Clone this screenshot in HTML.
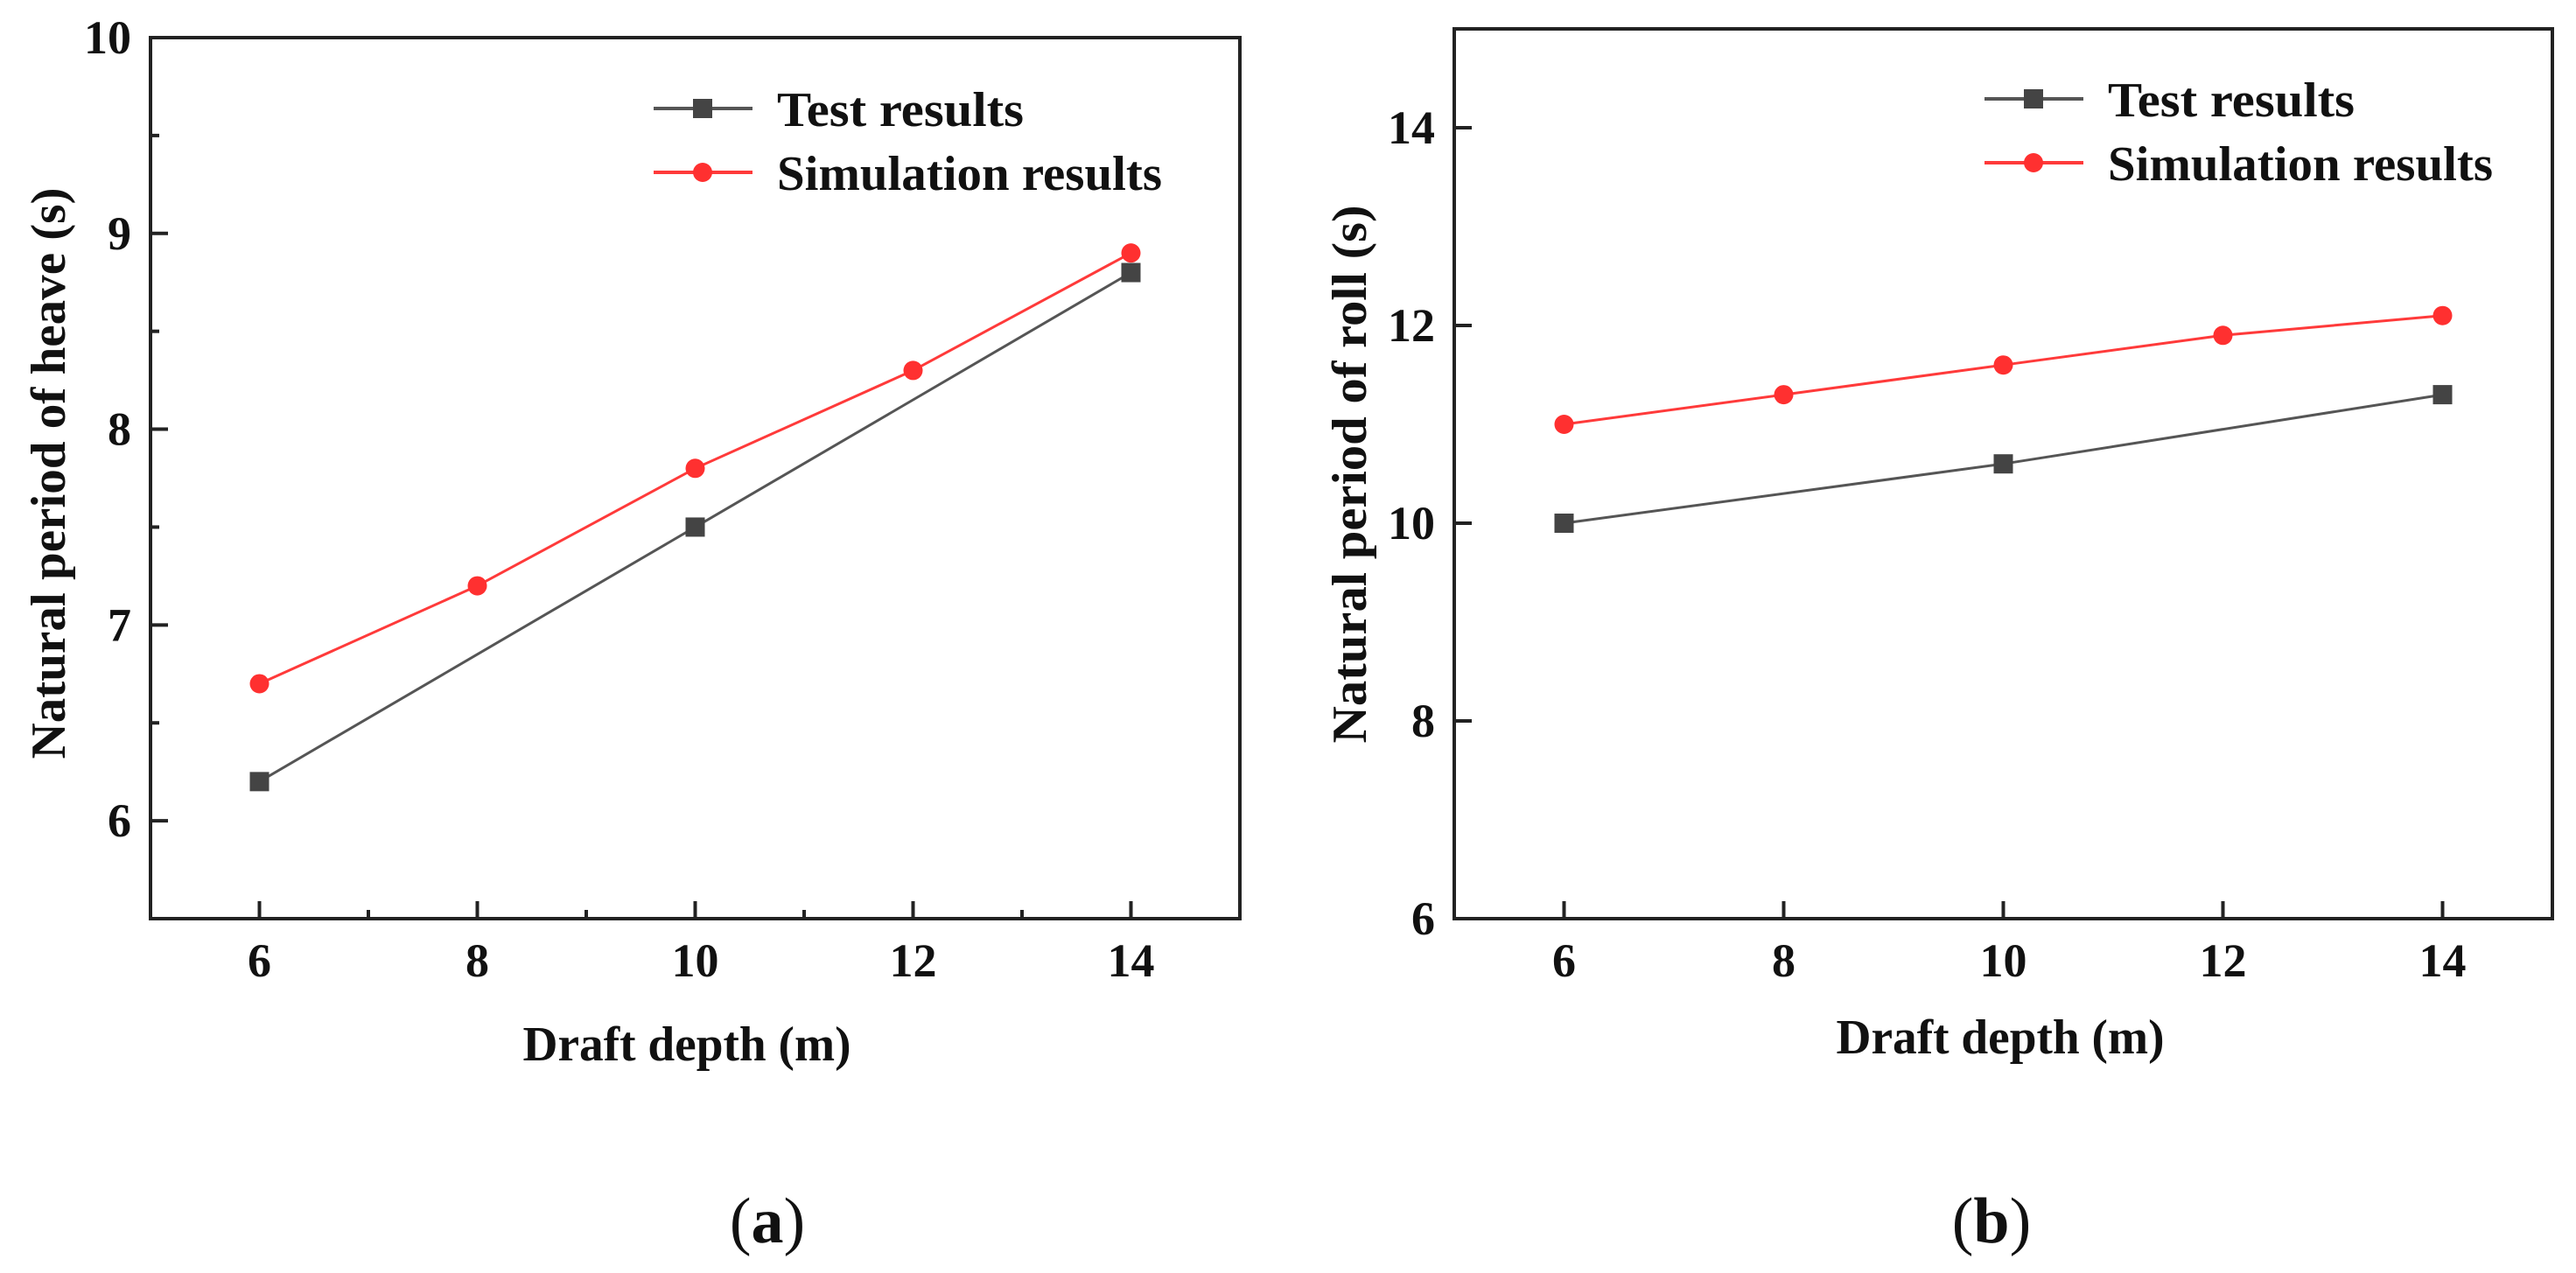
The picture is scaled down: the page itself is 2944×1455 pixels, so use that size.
<!DOCTYPE html>
<html><head><meta charset="utf-8"><style>
html,body{margin:0;padding:0;background:#fff;}
svg{display:block;}
text{font-family:"Liberation Serif",serif;font-weight:bold;fill:#111;}
</style></head><body>
<svg id="fig" width="2944" height="1455" viewBox="0 0 2944 1455" xmlns="http://www.w3.org/2000/svg"></svg>
<script>
const xValues = [6, 8, 10, 12, 14];
const heaveTestX = [6, 10, 14];
const heaveTest = [6.2, 7.5, 8.8];
const heaveSim = [6.7, 7.2, 7.8, 8.3, 8.9];
const rollTestX = [6, 10, 14];
const rollTest = [10.0, 10.6, 11.3];
const rollSim = [11.0, 11.3, 11.6, 11.9, 12.1];
const xTickLabels = ['6', '8', '10', '12', '14'];
const heaveYTicks = [6, 7, 8, 9, 10];
const rollYTicks = [6, 8, 10, 12, 14];
const legendLabels = ['Test results', 'Simulation results'];

const NS = 'http://www.w3.org/2000/svg';
const svg = document.getElementById('fig');
function mk(tag, attrs, parent) {
  const e = document.createElementNS(NS, tag);
  for (const k in attrs) e.setAttribute(k, attrs[k]);
  (parent || svg).appendChild(e);
  return e;
}

function panel(cfg) {
  const g = mk('g', {});
  
  
  const L = cfg.left, R = cfg.right, T = cfg.top, B = cfg.bottom;
  const sx = v => L + (v - cfg.xmin) / (cfg.xmax - cfg.xmin) * (R - L);
  const sy = v => B - (v - cfg.ymin) / (cfg.ymax - cfg.ymin) * (B - T);
  const frame = mk('rect', {x: L, y: T, width: R - L, height: B - T, fill: 'none', stroke: '#222', 'stroke-width': 4}, g);
  
  
  // x ticks
  xValues.forEach((v, i) => {
    const t = mk('line', {x1: sx(v), x2: sx(v), y1: B, y2: B - 20, stroke: '#222', 'stroke-width': 4}, g);
    
    
    const lb = mk('text', {x: sx(v), y: B + 66, 'font-size': 54, 'text-anchor': 'middle'}, g);
    lb.textContent = xTickLabels[i];
    
    
  });
  if (cfg.xMinor) {
    for (let v = 7; v <= 13; v += 2) {
      const t = mk('line', {x1: sx(v), x2: sx(v), y1: B, y2: B - 10, stroke: '#222', 'stroke-width': 4}, g);
      
      
    }
  }
  cfg.yTicks.forEach(v => {
    const t = mk('line', {x1: L, x2: L + 20, y1: sy(v), y2: sy(v), stroke: '#222', 'stroke-width': 4}, g);
    
    
    const lb = mk('text', {x: L - 22, y: sy(v) + 18, 'font-size': 54, 'text-anchor': 'end'}, g);
    lb.textContent = String(v);
    
    
  });
  if (cfg.yMinor) {
    cfg.yMinor.forEach(v => {
      const t = mk('line', {x1: L, x2: L + 10, y1: sy(v), y2: sy(v), stroke: '#222', 'stroke-width': 4}, g);
      
      
    });
  }
  // series
  const simLine = mk('polyline', {points: xValues.map((x, i) => sx(x) + ',' + sy(cfg.sim[i])).join(' '), fill: 'none', stroke: '#ff3a3a', 'stroke-width': 3}, g);
  
  
  const testLine = mk('polyline', {points: cfg.testX.map((x, i) => sx(x) + ',' + sy(cfg.test[i])).join(' '), fill: 'none', stroke: '#555', 'stroke-width': 3}, g);
  
  
  xValues.forEach((x, i) => {
    const c = mk('circle', {cx: sx(x), cy: sy(cfg.sim[i]), r: 11, fill: '#ff3030'}, g);
    
    
  });
  cfg.testX.forEach((x, i) => {
    const r = mk('rect', {x: sx(x) - 11, y: sy(cfg.test[i]) - 11, width: 22, height: 22, fill: '#444'}, g);
    
    
  });
  // legend
  const lg = mk('g', {}, g);
  
  
  const rows = [{c: '#555', m: 'rect', col: '#444'}, {c: '#ff3a3a', m: 'circle', col: '#ff3030'}];
  rows.forEach((r, i) => {
    const y = cfg.legY + i * 73;
    const lx = cfg.legX;
    const ln = mk('line', {x1: lx, x2: lx + 113, y1: y, y2: y, stroke: r.c, 'stroke-width': 4}, lg);
    
    
    let mkEl;
    if (r.m === 'rect') mkEl = mk('rect', {x: lx + 45, y: y - 11, width: 22, height: 22, fill: r.col}, lg);
    else mkEl = mk('circle', {cx: lx + 56, cy: y, r: 11, fill: r.col}, lg);
    
    
    const t = mk('text', {x: lx + 141, y: y + 20, 'font-size': 56, textLength: i === 0 ? 282 : 440, lengthAdjust: 'spacingAndGlyphs'}, lg);
    t.textContent = legendLabels[i];
    
    
  });
  // axis titles
  const xt = mk('text', {x: cfg.xTitleX, y: cfg.xTitleY, 'font-size': 56, 'text-anchor': 'middle', textLength: 375, lengthAdjust: 'spacingAndGlyphs'}, g);
  xt.textContent = 'Draft depth (m)';
  
  
  const yt = mk('text', {x: 0, y: 0, 'font-size': 56, 'text-anchor': 'middle', textLength: cfg.yTitleLen, lengthAdjust: 'spacingAndGlyphs', transform: 'translate(' + (cfg.yTitleX + 19) + ',' + cfg.yTitleY + ') rotate(-90)'}, g);
  yt.textContent = cfg.yTitle;
  
  
  // caption
  const cap = mk('text', {x: cfg.capX, y: 1420, 'font-size': 74, 'text-anchor': 'middle', 'font-weight': 'normal'}, g);
  
  
  cap.appendChild(document.createTextNode('('));
  const ts = mk('tspan', {'font-weight': 'bold'}, cap);
  ts.textContent = cfg.cap;
  cap.appendChild(document.createTextNode(')'));
  cap.style.fontWeight = 'normal';
}

panel({name: 'heave-chart', left: 172, right: 1417, top: 43, bottom: 1050, xmin: 5, xmax: 15, ymin: 5.5, ymax: 10,
  yTicks: heaveYTicks, yMinor: [5.5, 6.5, 7.5, 8.5, 9.5], xMinor: true,
  testX: heaveTestX, test: heaveTest, sim: heaveSim,
  legX: 747, legY: 124, xTitleX: 785, xTitleY: 1212,
  yTitle: 'Natural period of heave (s)', yTitleX: 55, yTitleY: 541, yTitleLen: 653,
  capX: 877, cap: 'a'});
panel({name: 'roll-chart', left: 1662, right: 2917, top: 33, bottom: 1050, xmin: 5, xmax: 15, ymin: 6, ymax: 15,
  yTicks: rollYTicks, yMinor: null, xMinor: false,
  testX: rollTestX, test: rollTest, sim: rollSim,
  legX: 2268, legY: 113, xTitleX: 2286, xTitleY: 1204,
  yTitle: 'Natural period of roll (s)', yTitleX: 1542, yTitleY: 542, yTitleLen: 615,
  capX: 2276, cap: 'b'});
</script>
</body></html>
